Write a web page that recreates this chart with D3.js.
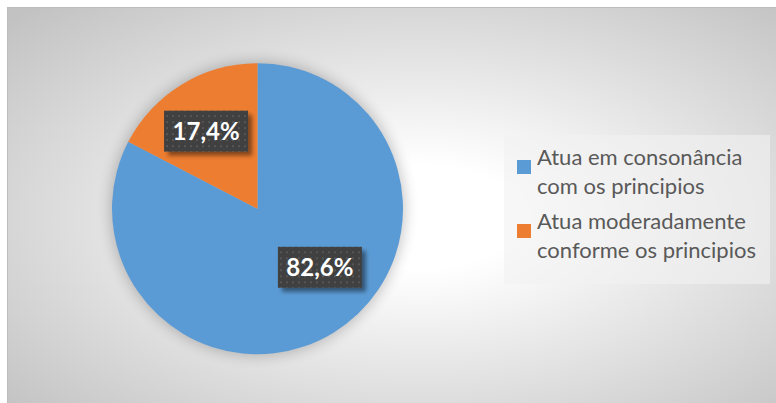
<!DOCTYPE html>
<html><head><meta charset="utf-8">
<script src="https://cdn.jsdelivr.net/npm/d3@7"></script>
<style>html,body{margin:0;padding:0;background:#fff;} svg{display:block;}</style>
</head><body>
<script>
const categories = ["Atua em consonância com os principios", "Atua moderadamente conforme os principios"];
const legendLines = [["Atua em consonância", "com os principios"], ["Atua moderadamente", "conforme os principios"]];
const values = [82.6, 17.4];
const labels = ["82,6%", "17,4%"];
const colors = ["#5B9BD5", "#ED7D31"];

const W = 776, H = 403;
const svg = d3.select("body").append("svg").attr("width", W).attr("height", H);
const defs = svg.append("defs");

const rg = defs.append("radialGradient").attr("id", "bg")
  .attr("cx", 0.53).attr("cy", 0.52).attr("r", 0.72);
rg.append("stop").attr("offset", 0).attr("stop-color", "#ffffff");
rg.append("stop").attr("offset", 0.18).attr("stop-color", "#ffffff");
rg.append("stop").attr("offset", 1).attr("stop-color", "#c2c2c2");

const pat = defs.append("pattern").attr("id", "dots").attr("patternUnits", "userSpaceOnUse")
  .attr("width", 6).attr("height", 6);
pat.append("rect").attr("width", 6).attr("height", 6).attr("fill", "#3f3f3f");
pat.append("rect").attr("x", 2).attr("y", 2).attr("width", 2).attr("height", 2).attr("fill", "#575757");

const fs = defs.append("filter").attr("id", "pieShadow").attr("x", "-30%").attr("y", "-30%").attr("width", "160%").attr("height", "160%");
fs.append("feGaussianBlur").attr("stdDeviation", 7);

const fl = defs.append("filter").attr("id", "lblShadow").attr("x", "-30%").attr("y", "-30%").attr("width", "160%").attr("height", "160%");
fl.append("feGaussianBlur").attr("in", "SourceAlpha").attr("stdDeviation", 2).attr("result", "b");
fl.append("feOffset").attr("in", "b").attr("dx", 4).attr("dy", 4).attr("result", "o");
fl.append("feComponentTransfer").attr("in", "o").attr("result", "s")
  .append("feFuncA").attr("type", "linear").attr("slope", 0.45);
const fm = fl.append("feMerge");
fm.append("feMergeNode").attr("in", "s");
fm.append("feMergeNode").attr("in", "SourceGraphic");

// chart area
svg.append("rect").attr("x", 7.5).attr("y", 7.5).attr("width", W).attr("height", H)
  .attr("fill", "url(#bg)").attr("stroke", "#bdbdbd").attr("stroke-width", 1);

const cx = 257.5, cy = 208.7, R = 145.5;
const g = svg.append("g").attr("transform", `translate(${cx},${cy})`);

g.append("circle").attr("r", R + 2).attr("fill", "#000").attr("opacity", 0.22).attr("filter", "url(#pieShadow)");

const pie = d3.pie().sort(null).value(d => d)(values);
const arc = d3.arc().innerRadius(0).outerRadius(R);
g.selectAll("path.slice").data(pie).join("path").attr("class", "slice")
  .attr("d", arc).attr("fill", (d, i) => colors[i]);

const labelRadius = [0.6, 0.64];
const labelShift = [[17, -16], [-3, 2]];
const bw = 84, bh = 41;
pie.forEach((d, i) => {
  const la = d3.arc().innerRadius(R * labelRadius[i]).outerRadius(R * labelRadius[i]);
  const [x, y] = la.centroid(d);
  const lx = x + labelShift[i][0], ly = y + labelShift[i][1];
  const lg = g.append("g").attr("transform", `translate(${lx},${ly})`);
  lg.append("rect").attr("x", -bw / 2).attr("y", -bh / 2).attr("width", bw).attr("height", bh)
    .attr("fill", "url(#dots)").attr("filter", "url(#lblShadow)");
  lg.append("text").attr("text-anchor", "middle").attr("dy", "0.36em")
    .attr("font-family", "Lato, 'Open Sans', sans-serif").attr("font-weight", "bold")
    .attr("font-size", 24).attr("fill", "#ffffff").text(labels[i]);
});

// legend
const leg = svg.append("g");
leg.append("rect").attr("x", 504).attr("y", 135).attr("width", 266).attr("height", 149)
  .attr("fill", "#f2f2f2").attr("opacity", 0.6);
const legY = [160, 224];
categories.forEach((c, i) => {
  leg.append("rect").attr("x", 517).attr("y", legY[i]).attr("width", 14).attr("height", 14).attr("fill", colors[i]);
  const t = leg.append("text").attr("x", 537).attr("y", legY[i] + 5)
    .attr("font-family", "Lato, 'Open Sans', sans-serif").attr("font-size", 22).attr("fill", "#595959");
  legendLines[i].forEach((ln, j) => {
    t.append("tspan").attr("x", 537).attr("y", legY[i] + 5 + j * 29).text(ln);
  });
});
</script>
</body></html>
